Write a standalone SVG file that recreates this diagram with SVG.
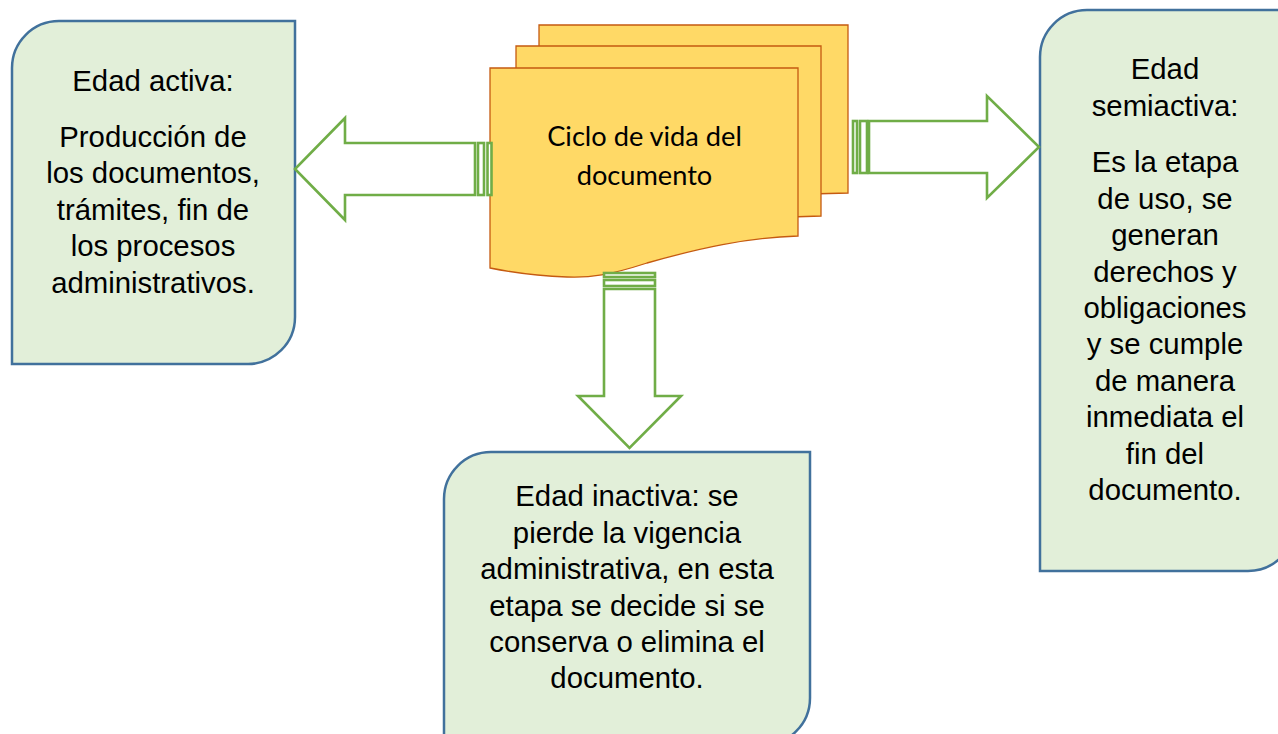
<svg xmlns="http://www.w3.org/2000/svg" width="1278" height="734" viewBox="0 0 1278 734">
<style>
.box{fill:#e2efd9;stroke:#41719c;stroke-width:2.5}
.doc{fill:#ffd966;stroke:#c55a11;stroke-width:1.3}
.arr{fill:#fff;stroke:#70ad47;stroke-width:2.600;stroke-linejoin:miter}
.t{font-family:"Liberation Sans",Arial,sans-serif;font-size:29.330px;fill:#000;text-anchor:middle}
.c{font-family:Lato,"Noto Sans",sans-serif;font-size:27.200px;fill:#000;text-anchor:middle}
</style>
<rect width="1278" height="734" fill="#fff"/>
<g id="documento">
<path class="doc" d="M539 25H848V193L810 194V60H539Z"/>
<path class="doc" d="M516 46H821V216L790 217V80H516Z"/>
<path class="doc" d="M490 68H798V236C745 238 700 248 647 263C610 275 590 278 567 277C540 276 515 273 490 268Z"/>
<text class="c" x="644.500" y="146">Ciclo de vida del</text>
<text class="c" x="644.500" y="185">documento</text>
</g>
<g id="edad-activa">
<path class="box" d="M59 21H295V317A47 47 0 0 1 248 364H12V68A47 47 0 0 1 59 21Z"/>
<text class="t" x="153" y="91">Edad activa:</text>
<text class="t" x="153" y="147">Producción de</text>
<text class="t" x="153" y="183">los documentos,</text>
<text class="t" x="153" y="220">trámites, fin de</text>
<text class="t" x="153" y="256">los procesos</text>
<text class="t" x="153" y="293">administrativos.</text>
</g>
<g id="edad-semiactiva">
<path class="box" d="M1087 10H1295V524A47 47 0 0 1 1248 571H1040V57A47 47 0 0 1 1087 10Z"/>
<text class="t" x="1165" y="79">Edad</text>
<text class="t" x="1165" y="116">semiactiva:</text>
<text class="t" x="1165" y="172">Es la etapa</text>
<text class="t" x="1165" y="209">de uso, se</text>
<text class="t" x="1165" y="245">generan</text>
<text class="t" x="1165" y="282">derechos y</text>
<text class="t" x="1165" y="318">obligaciones</text>
<text class="t" x="1165" y="354">y se cumple</text>
<text class="t" x="1165" y="391">de manera</text>
<text class="t" x="1165" y="427">inmediata el</text>
<text class="t" x="1165" y="464">fin del</text>
<text class="t" x="1165" y="500">documento.</text>
</g>
<g id="edad-inactiva">
<path class="box" d="M491 452H810V698A47 47 0 0 1 763 745H444V499A47 47 0 0 1 491 452Z"/>
<text class="t" x="627" y="506">Edad inactiva: se</text>
<text class="t" x="627" y="543">pierde la vigencia</text>
<text class="t" x="627" y="579">administrativa, en esta</text>
<text class="t" x="627" y="616">etapa se decide si se</text>
<text class="t" x="627" y="652">conserva o elimina el</text>
<text class="t" x="627" y="688">documento.</text>
</g>
<g id="connectors">
<path class="arr" d="M475 143H345V118L295 169L345 220V195H475Z"/>
<rect class="arr" x="478" y="143" width="6" height="52"/>
<rect class="arr" x="487.500" y="143" width="4" height="52"/>
<path class="arr" d="M869 121H987V96L1039 147L987 198V173H869Z"/>
<rect class="arr" x="860" y="121" width="7" height="52"/>
<rect class="arr" x="853" y="121" width="4" height="52"/>
<path class="arr" d="M604 289V396H578L629.500 448L681 396H655V289Z"/>
<rect class="arr" x="604" y="280" width="51" height="6"/>
<rect class="arr" x="604" y="273" width="51" height="4"/>
</g>
</svg>
